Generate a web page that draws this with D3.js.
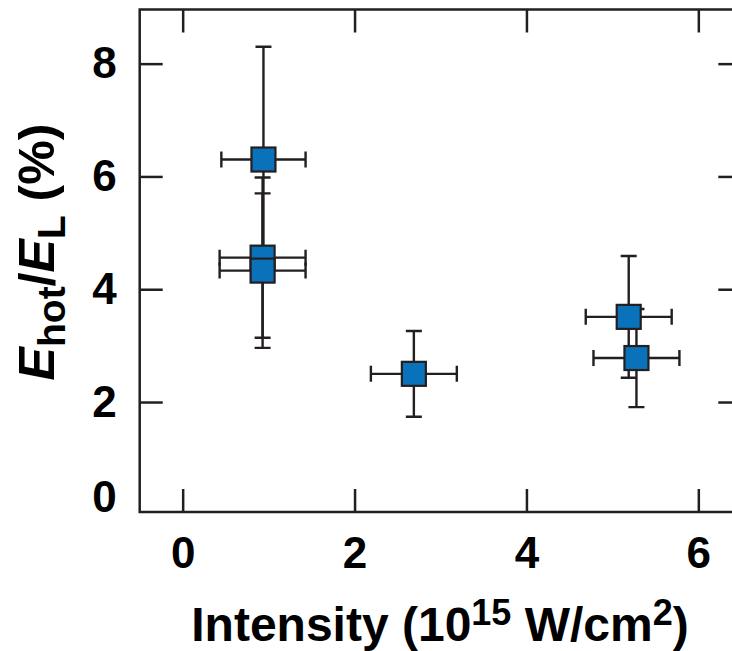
<!DOCTYPE html>
<html>
<head>
<meta charset="utf-8">
<script src="https://cdn.jsdelivr.net/npm/d3@7"></script>
<style>
  body { margin: 0; background: #fff; }
  svg text { font-family: "Liberation Sans", Arial, Helvetica, sans-serif; font-weight: bold; fill: #000; }
</style>
</head>
<body>
<div id="chart"></div>
<script>
// data
const intensity = [0.94, 0.93, 0.93, 2.69, 5.19, 5.28]
const intensityErr = [0.49, 0.5, 0.5, 0.5, 0.5, 0.5]
const ehot = [6.30, 4.56, 4.33, 2.50, 3.51, 2.78]
const ehotErr = [2.0, 1.42, 1.37, 0.76, 1.08, 0.87]
const xTicks = [0, 2, 4, 6]
const yTicks = [0, 2, 4, 6, 8]

const width = 732
const height = 651
const ink = '#231f20'
const tickLen = 23

const svg = d3.select('#chart')
    .append('svg')
    .attr('width', width)
    .attr('height', height)

const x = d3.scaleLinear()
    .domain([-0.5, 6.5])
    .range([139.7, 741.3])

const y = d3.scaleLinear()
    .domain([0.05, 8.96])
    .range([512, 9.5])

const [x0, x1] = x.range()
const [y0, y1] = y.range()
const fmt = d3.format('d')

// axes (ticks point inward)
const bottomAxis = svg.append('g')
    .attr('transform', `translate(0, ${y0})`)
    .call(d3.axisBottom(x).tickValues(xTicks).tickFormat(fmt).tickSize(-tickLen).tickPadding(25).tickSizeOuter(0))

const topAxis = svg.append('g')
    .attr('transform', `translate(0, ${y1})`)
    .call(d3.axisTop(x).tickValues(xTicks).tickSize(-tickLen).tickFormat('').tickSizeOuter(0))

const leftAxis = svg.append('g')
    .attr('transform', `translate(${x0}, 0)`)
    .call(d3.axisLeft(y).tickValues(yTicks).tickFormat(fmt).tickSize(-tickLen).tickPadding(23).tickSizeOuter(0))

const rightAxis = svg.append('g')
    .attr('transform', `translate(${x1}, 0)`)
    .call(d3.axisRight(y).tickValues(yTicks.filter(d => d > 0)).tickSize(-tickLen).tickFormat('').tickSizeOuter(0))

svg.selectAll('.domain').remove()
svg.selectAll('.tick line').attr('stroke', ink).attr('stroke-width', 2.5)
svg.selectAll('.tick text')
    .style('font-size', '44px')
    .attr('fill', '#000')

// zero sits below the frame, so no tick there and the label is lifted
leftAxis.selectAll('.tick').filter(d => d === 0).select('line').remove()
leftAxis.selectAll('.tick').filter(d => d === 0).select('text').attr('y', -17)

// frame
svg.append('path')
    .attr('d', `M${x1},${y1}H${x0}V${y0}H${x1}`)
    .attr('fill', 'none')
    .attr('stroke', ink)
    .attr('stroke-width', 2.5)

// error bars
const cap = 8
const bars = svg.append('g')
    .attr('stroke', ink)
    .attr('stroke-width', 2.4)
    .attr('fill', 'none')

intensity.forEach((xv, i) => {
    const cx = x(xv)
    const cy = y(ehot[i])
    const yt = y(ehot[i] + ehotErr[i])
    const yb = y(ehot[i] - ehotErr[i])
    const xl = x(xv - intensityErr[i])
    const xr = x(xv + intensityErr[i])
    bars.append('path')
        .attr('d', `M${cx},${yt}V${yb}M${cx - cap},${yt}H${cx + cap}M${cx - cap},${yb}H${cx + cap}` +
            `M${xl},${cy}H${xr}M${xl},${cy - cap}V${cy + cap}M${xr},${cy - cap}V${cy + cap}`)
})

// markers
const size = 24
svg.append('g')
    .selectAll('rect')
    .data(intensity)
    .enter()
    .append('rect')
    .attr('x', d => x(d) - size / 2)
    .attr('y', (d, i) => y(ehot[i]) - size / 2)
    .attr('width', size)
    .attr('height', size)
    .attr('fill', '#0a72ba')
    .attr('stroke', ink)
    .attr('stroke-width', 2.2)

// axis titles
svg.append('text')
    .attr('x', 440)
    .attr('y', 641)
    .attr('text-anchor', 'middle')
    .style('font-size', '48px')
    .html('Intensity (10<tspan font-size="0.75em" dy="-0.45em">15</tspan><tspan dy="0.34em"> W/cm</tspan><tspan font-size="0.75em" dy="-0.45em">2</tspan><tspan dy="0.34em">)</tspan>')

svg.append('text')
    .attr('transform', 'translate(54, 252) rotate(-90)')
    .attr('text-anchor', 'middle')
    .style('font-size', '50px')
    .html('<tspan font-style="italic">E</tspan><tspan font-size="0.78em" dy="0.28em">hot</tspan><tspan dy="-0.22em">/</tspan><tspan font-style="italic">E</tspan><tspan font-size="0.78em" dy="0.28em">L</tspan><tspan dy="-0.22em"> (%)</tspan>')
</script>
</body>
</html>
